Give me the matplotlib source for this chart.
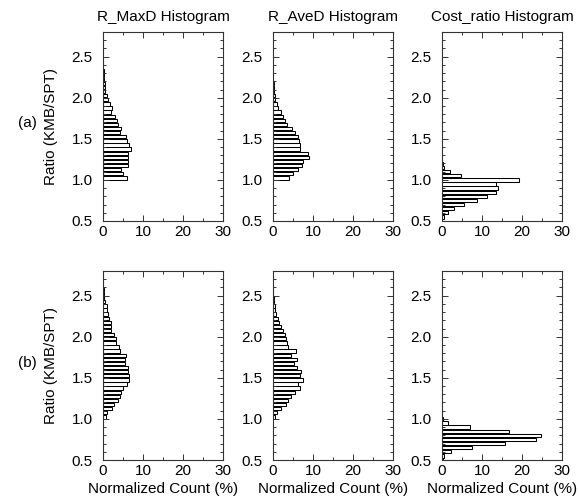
import matplotlib
matplotlib.use('Agg')
import matplotlib.pyplot as plt
import numpy as np
from matplotlib.ticker import MultipleLocator, FormatStrFormatter

plt.rcParams['font.family'] = ['Liberation Sans', 'DejaVu Sans']

BIN_WIDTH = 0.05
BAR_HEIGHT = 0.04
FIG_W = 579
FIG_H = 501
FONT_SIZE = 11

# normalized counts (%) per 0.05 bin, listed from the lowest bin upwards
# row (a)
a_maxd_start = 1.0
a_maxd = [6.0, 4.9, 4.5, 6.2, 6.2, 6.2, 6.3, 6.9, 6.5, 6.1,
          5.7, 4.3, 4.5, 3.8, 3.5, 3.0, 2.0, 2.2, 1.8, 1.3,
          1.0, 0.6, 0.5, 0.4, 0.3, 0.2, 0.15, 0.1, 0.05]

a_aved_start = 1.0
a_aved = [4.0, 5.0, 6.2, 7.3, 7.4, 9.0, 8.8, 6.8, 6.8, 6.6,
          6.2, 5.6, 4.8, 3.4, 3.0, 2.4, 2.0, 1.3, 0.9, 0.6,
          0.4, 0.3, 0.2, 0.15, 0.1, 0.1, 0.05]

a_cost_start = 0.525
a_cost = [0.6, 1.6, 3.0, 5.5, 8.7, 11.2, 13.5, 14.1, 13.6, 19.2,
          4.7, 2.0, 0.6, 0.2, 0.1]

# row (b)
b_maxd_start = 1.0
b_maxd = [0.8, 1.0, 2.2, 2.8, 3.7, 4.3, 4.6, 5.1, 6.1, 6.5,
          6.5, 6.3, 6.3, 5.5, 5.5, 5.7, 4.3, 4.1, 3.3, 3.3,
          2.8, 2.0, 2.0, 2.0, 1.6, 1.2, 0.9, 1.0, 0.5, 0.3,
          0.2, 0.15, 0.1, 0.05]

b_aved_start = 1.0
b_aved = [0.6, 1.0, 2.0, 3.3, 3.8, 4.6, 5.5, 6.8, 6.3, 7.6,
          6.8, 6.9, 5.9, 5.3, 5.9, 4.6, 5.7, 3.7, 3.5, 3.3,
          3.0, 2.4, 2.0, 1.6, 1.2, 0.8, 0.6, 0.5, 0.3, 0.2,
          0.1, 0.1]

b_cost_start = 0.475
b_cost = [0.2, 0.6, 2.3, 7.4, 15.8, 23.4, 24.8, 16.8, 7.0, 1.6,
          0.2, 0.1]

titles = ['R_MaxD Histogram', 'R_AveD Histogram', 'Cost_ratio Histogram']
row_labels = ['(a)', '(b)']
y_label = 'Ratio (KMB/SPT)'
x_label = 'Normalized Count (%)'

# axes boxes in pixels (left, top) with fixed size
COL_LEFT = [103, 273, 442]
ROW_TOP = [32, 271]
BOX_W = 120
BOX_H = 189


def chart_histogram(ax, start, counts):
    centers = start + BIN_WIDTH * (np.arange(len(counts)) + 0.5)
    ax.barh(centers, counts, height=BAR_HEIGHT, color='white',
            edgecolor='black', linewidth=0.75)
    ax.set_xlim(0, 30)
    ax.set_ylim(0.5, 2.8)
    ax.set_xticks([0, 10, 20, 30])
    ax.xaxis.set_minor_locator(MultipleLocator(5))
    ax.set_yticks([0.5, 1.0, 1.5, 2.0, 2.5])
    ax.yaxis.set_minor_locator(MultipleLocator(0.1))
    ax.yaxis.set_major_formatter(FormatStrFormatter('%.1f'))
    ax.tick_params(which='both', direction='in', top=True, right=True,
                   labelsize=FONT_SIZE, width=0.7, color='#333333')
    ax.tick_params(which='major', length=4)
    ax.tick_params(which='minor', length=2.5)
    ax.tick_params(axis='y', pad=7.5)
    ax.tick_params(axis='x', pad=3)
    for s in ax.spines.values():
        s.set_linewidth(0.8)
        s.set_color('#333333')


if __name__ == '__main__':
    fig = plt.figure(figsize=(FIG_W / 100, FIG_H / 100), dpi=100)

    data = [[(a_maxd_start, a_maxd), (a_aved_start, a_aved), (a_cost_start, a_cost)],
            [(b_maxd_start, b_maxd), (b_aved_start, b_aved), (b_cost_start, b_cost)]]

    for r in range(2):
        for c in range(3):
            left = COL_LEFT[c] / FIG_W
            bottom = 1 - (ROW_TOP[r] + BOX_H) / FIG_H
            ax = fig.add_axes([left, bottom, BOX_W / FIG_W, BOX_H / FIG_H])
            start, counts = data[r][c]
            chart_histogram(ax, start, counts)
            if r == 0:
                ax.set_title(titles[c], fontsize=FONT_SIZE, pad=8)
            if r == 1:
                ax.set_xlabel(x_label, fontsize=FONT_SIZE, labelpad=3)
            if c == 0:
                ax.set_ylabel(y_label, fontsize=FONT_SIZE, labelpad=10)

        fig.text(27 / FIG_W, 1 - (ROW_TOP[r] + BOX_H / 2 - 3) / FIG_H, row_labels[r],
                 ha='center', va='center', fontsize=FONT_SIZE)

    fig.savefig('out.png', dpi=100)
